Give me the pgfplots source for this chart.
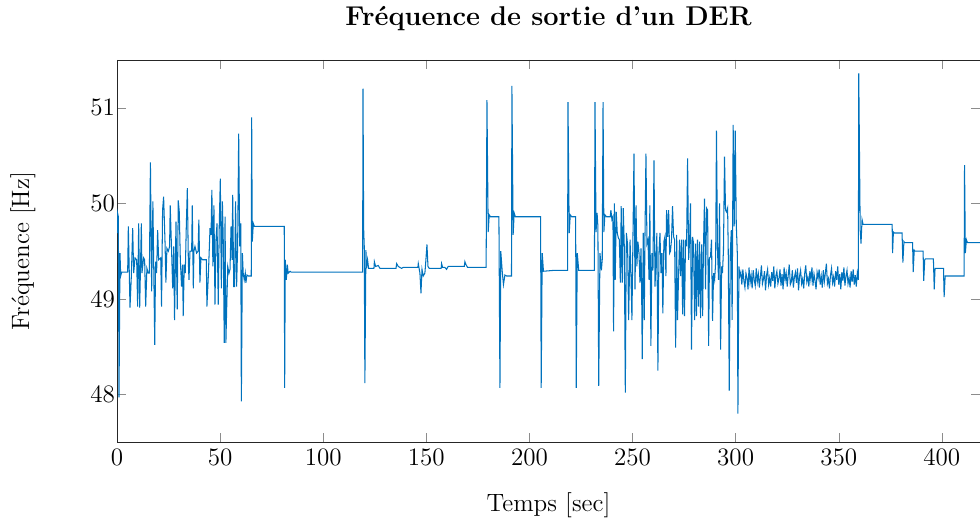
\documentclass[border=0pt]{standalone}
\usepackage{pgfplots}
\pgfplotsset{compat=1.18}
\definecolor{mblue}{rgb}{0,0.447,0.741}
\begin{document}
\begin{tikzpicture}
\begin{axis}[
  width=413pt, height=183pt, scale only axis,
  xmin=0, xmax=418.5, ymin=47.5, ymax=51.5,
  xtick={0,50,...,400}, ytick={48,49,50,51},
  title={Fréquence de sortie d'un DER},
  xlabel={Temps [sec]}, ylabel={Fréquence [Hz]},
  tick label style={font=\large},
  label style={font=\large},
  title style={font=\fontsize{13}{15}\selectfont\bfseries, yshift=4.3pt},
  xlabel style={yshift=-6pt},
  ylabel style={at={(axis description cs:-0.109,0.5)}, anchor=center},
  yticklabel style={xshift=2.5pt},
  tick align=inside,
  major tick style={black!45},
  axis line style={black!85},
]
\addplot[mblue, line width=0.5pt] coordinates {
(0,49.69) (0.16,49.91) (0.65,49.86) (0.97,47.97) (1.45,49.48) (1.78,49.24) (2.26,49.28) (5.17,49.28)
(5.49,49.76) (6.3,48.91) (6.95,49.24) (7.6,49.74) (8.08,49.27) (8.72,49.43) (9.53,49.41) (10.0,48.92)
(10.5,49.79) (11.0,48.91) (11.8,49.79) (12.1,49.27) (12.9,49.43) (13.4,49.41) (13.9,48.92) (14.5,49.32)
(15.2,49.27) (15.7,49.27) (16.2,50.43) (16.8,49.08) (17.4,50.02) (18.3,48.52) (18.7,49.39) (19.2,49.27)
(19.7,49.72) (20.2,49.41) (21.2,49.43) (21.6,48.92) (22.1,49.93) (22.6,50.07) (23.3,49.58) (23.7,49.17)
(24.2,49.53) (24.9,49.5) (25.5,49.55) (25.8,49.98) (26.5,49.48) (27.0,49.11) (27.5,49.55) (27.9,48.78)
(28.6,49.81) (29.2,48.89) (29.7,50.03) (30.2,49.91) (30.7,49.41) (31.3,49.13) (31.8,49.36) (32.1,48.82)
(32.6,49.36) (33.1,49.27) (33.6,49.76) (34.1,50.16) (34.6,49.38) (34.9,49.2) (35.4,49.5) (36.2,49.5)
(36.5,49.98) (37.0,49.11) (37.3,49.5) (37.8,49.55) (38.6,49.48) (39.3,49.5) (39.7,49.83) (40.2,49.17)
(40.7,49.43) (41.5,49.41) (43.3,49.41) (43.6,48.92) (44.3,49.25) (45.1,49.74) (45.6,49.67) (46.0,50.14)
(46.5,49.34) (47.0,49.98) (47.5,48.94) (48.0,49.62) (48.5,49.79) (49.1,48.94) (49.6,49.79) (50.1,50.26)
(50.6,49.11) (51.1,50.02) (51.5,49.64) (52.0,48.54) (52.4,49.86) (52.8,48.54) (53.2,48.91) (53.7,49.34)
(54.3,49.27) (54.8,49.31) (55.3,49.76) (55.8,49.41) (56.1,50.09) (56.6,49.13) (57.0,49.13) (57.5,50.02)
(58.0,49.13) (58.5,49.55) (59.0,50.73) (59.5,49.55) (60.0,49.79) (60.3,47.93) (60.8,49.48) (61.2,49.27)
(61.7,49.2) (62.2,49.27) (62.5,49.17) (63.0,49.25) (63.7,49.24) (65.1,49.24) (65.3,50.9) (65.6,49.6)
(66.1,49.79) (66.6,49.76) (81.1,49.76) (81.3,48.07) (81.6,49.41) (82.1,49.2) (82.6,49.36) (83.0,49.27)
(83.9,49.29) (84.5,49.28) (119.1,49.28) (119.3,51.2) (119.6,49.74) (119.9,49.55) (120.2,48.12)
(120.7,49.51) (121.0,49.32) (121.5,49.41) (122.0,49.32) (124.6,49.32) (124.8,49.39) (125.4,49.34)
(126.7,49.35) (127.5,49.32) (135.3,49.32) (135.6,49.37) (136.4,49.34) (138.0,49.32) (138.8,49.33)
(145.9,49.33) (146.1,49.37) (146.9,49.27) (147.4,49.06) (147.9,49.31) (148.5,49.24) (149.3,49.27)
(149.8,49.41) (150.3,49.57) (150.8,49.34) (151.4,49.32) (157.2,49.32) (157.4,49.37) (157.9,49.33)
(159.0,49.33) (159.8,49.31) (160.6,49.34) (168.4,49.34) (168.7,49.39) (169.2,49.36) (170.0,49.33)
(179.0,49.33) (179.4,51.08) (180.0,49.70) (180.5,49.88) (181.1,49.86) (185.2,49.86) (185.7,48.07)
(186.1,49.5) (186.8,49.29) (187.4,49.15) (188.1,49.25) (188.9,49.24) (191.3,49.24) (191.5,51.23)
(192.1,49.67) (192.6,49.9) (193.2,49.86) (205.4,49.86) (205.7,48.07) (206.2,49.48) (206.8,49.29)
(212.3,49.3) (218.5,49.3) (218.7,51.06) (219.3,49.69) (219.8,49.88) (220.5,49.86) (222.4,49.86)
(222.7,48.07) (223.2,49.48) (223.9,49.3) (231.5,49.3) (231.8,51.06) (232.3,49.7) (232.8,49.9)
(233.2,49.76) (233.6,48.09) (234.2,49.48) (234.9,49.3) (235.3,49.41) (235.7,51.06) (236.1,49.7)
(236.6,49.88) (237.4,49.86) (239.2,49.86) (239.5,49.93) (240.0,49.83) (240.5,49.86) (240.8,48.66)
(241.2,50.0) (241.6,49.2) (242.1,49.91) (242.6,49.69) (243.1,49.64) (243.6,49.62) (244.1,49.17)
(244.5,49.97) (245.0,49.17) (245.5,49.95) (246.0,49.55) (246.5,48.02) (247.0,49.69) (247.6,49.57)
(248.1,48.78) (248.8,49.62) (249.2,49.3) (249.7,48.78) (250.2,49.64) (250.7,50.52) (251.2,49.1)
(251.7,49.98) (252.1,49.34) (252.6,49.6) (253.1,49.5) (253.6,49.17) (254.1,49.53) (254.4,49.13)
(254.7,48.37) (255.2,49.69) (255.7,48.78) (256.0,49.6) (256.5,50.52) (257.0,49.58) (257.5,49.62)
(258.0,49.2) (258.4,49.98) (258.9,48.51) (259.4,49.48) (259.9,49.3) (260.4,50.45) (260.9,49.13)
(261.4,49.41) (261.8,49.69) (262.3,48.25) (262.8,49.48) (263.3,49.69) (263.8,49.27) (264.3,49.48)
(264.7,48.85) (265.2,49.6) (265.7,49.65) (266.2,49.24) (266.5,49.93) (267.0,49.65) (267.5,49.93)
(268.0,49.48) (268.4,49.5) (268.9,49.62) (269.4,49.97) (269.9,49.65) (270.4,49.62) (270.9,48.49)
(271.4,49.67) (271.8,48.78) (272.3,49.22) (272.8,49.62) (273.3,49.24) (273.8,49.62) (274.3,48.84)
(274.7,49.62) (275.2,48.82) (275.7,49.62) (276.2,49.55) (276.7,50.47) (277.2,49.41) (277.7,49.62)
(278.1,50.0) (278.6,48.47) (279.1,49.65) (279.6,49.58) (280.1,48.78) (280.6,49.58) (281.0,48.82)
(281.5,49.62) (282.0,48.92) (282.5,49.6) (283.0,48.8) (283.5,49.57) (284.0,48.82) (284.4,49.55)
(284.9,50.05) (285.4,49.1) (285.9,49.95) (286.4,49.93) (286.9,48.51) (287.3,49.43) (287.8,49.44)
(288.3,49.62) (288.8,48.77) (289.3,49.27) (289.8,49.2) (290.3,49.38) (290.7,50.76) (291.2,49.51)
(291.7,49.2) (292.2,50.0) (292.7,48.47) (293.2,49.34) (293.6,49.27) (294.1,49.51) (294.6,50.49)
(295.1,49.93) (295.6,49.91) (296.1,49.95) (296.4,49.53) (296.9,48.04) (297.4,49.48) (297.9,49.72)
(298.3,48.78) (298.8,50.82) (299.3,49.76) (299.8,50.76) (300.3,49.79) (300.8,49.48) (301.1,47.8)
(301.6,49.34) (302.0,49.24)
(302.5,49.28) (303.0,49.15) (303.5,49.31) (304.0,49.19) (304.5,49.12) (305.0,49.27) (305.5,49.22)
(306.0,49.10) (306.5,49.33) (307.0,49.17) (307.5,49.25) (308.0,49.11) (308.5,49.30) (309.0,49.20)
(309.5,49.14) (310.0,49.32) (310.5,49.18) (311.0,49.26) (311.5,49.12) (312.0,49.23) (312.5,49.35)
(313.0,49.16) (313.5,49.21) (314.0,49.29) (314.5,49.09) (315.0,49.25) (315.5,49.31) (316.0,49.15)
(316.5,49.22) (317.0,49.13) (317.5,49.28) (318.0,49.19) (318.5,49.34) (319.0,49.11) (319.5,49.24)
(320.0,49.29) (320.5,49.16) (321.0,49.21) (321.5,49.31) (322.0,49.14) (322.5,49.26) (323.0,49.10)
(323.5,49.33) (324.0,49.20) (324.5,49.27) (325.0,49.13) (325.5,49.25) (326.0,49.36) (326.5,49.15)
(327.0,49.18) (327.5,49.30) (328.0,49.12) (328.5,49.23) (329.0,49.28) (329.5,49.17) (330.0,49.32)
(330.5,49.09) (331.0,49.24) (331.5,49.30) (332.0,49.16) (332.5,49.21) (333.0,49.11) (333.5,49.27)
(334.0,49.35) (334.5,49.18) (335.0,49.23) (335.5,49.13) (336.0,49.29) (336.5,49.20) (337.0,49.33)
(337.5,49.14) (338.0,49.26) (338.5,49.19) (339.0,49.10) (339.5,49.28) (340.0,49.22) (340.5,49.31)
(341.0,49.15) (341.5,49.24) (342.0,49.12) (342.5,49.30) (343.0,49.18) (343.5,49.27) (344.0,49.37)
(344.5,49.16) (345.0,49.21) (345.5,49.11) (346.0,49.25) (346.5,49.32) (347.0,49.17) (347.5,49.23)
(348.0,49.13) (348.5,49.29) (349.0,49.20) (349.5,49.34) (350.0,49.15) (350.5,49.26) (351.0,49.10)
(351.5,49.28) (352.0,49.19) (352.5,49.33) (353.0,49.14) (353.5,49.24) (354.0,49.30) (354.5,49.16)
(355.0,49.22) (355.5,49.12) (356.0,49.29) (356.5,49.18) (357.0,49.31) (357.5,49.15) (358.0,49.25)
(358.5,49.13) (359.0,49.27) (359.5,49.20)
(359.7,51.36) (360.4,49.72) (360.8,49.58) (361.3,49.83) (361.8,49.78) (375.9,49.78)
(376.1,49.48) (376.5,49.7) (376.9,49.69) (380.7,49.69) (381.1,49.38) (381.6,49.6) (381.9,49.59)
(385.8,49.59) (386.1,49.28) (386.6,49.51) (386.9,49.5) (390.9,49.5) (391.2,49.19) (391.7,49.41)
(392.1,49.42) (395.9,49.42) (396.3,49.1) (396.7,49.32) (397.1,49.32) (400.8,49.32) (401.1,49.02)
(401.6,49.24) (401.9,49.24) (410.8,49.24) (411.0,50.4) (411.4,49.48) (411.9,49.62) (412.4,49.59)
(418.5,49.59)
};
\end{axis}
\pgfresetboundingbox
\path[use as bounding box] ([xshift=-56pt,yshift=-37.3pt]current axis.south west) rectangle ([yshift=28.7pt]current axis.north east);
\end{tikzpicture}
\end{document}
